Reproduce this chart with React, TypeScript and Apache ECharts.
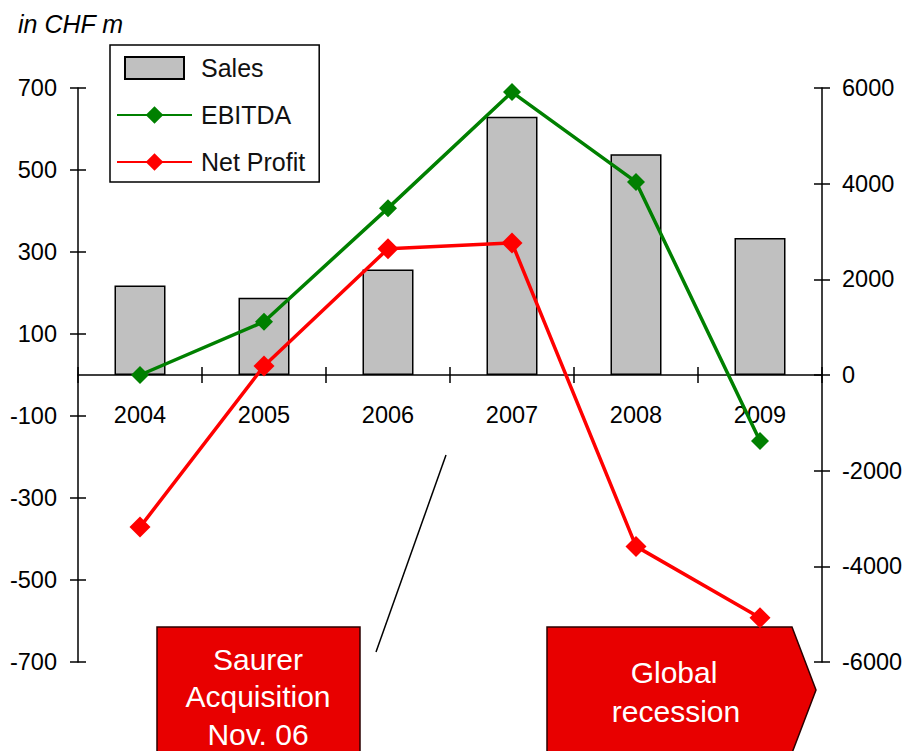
import React, { useEffect, useRef } from "react";
import * as echarts from "echarts";

const years = ["2004", "2005", "2006", "2007", "2008", "2009"];
const sales = [1870, 1615, 2205, 5400, 4615, 2865];
const ebitda = [0, 130, 407, 690, 471, -161];
const netProfit = [-371, 22, 308, 322, -418, -592];
const leftTicks = [-700, -500, -300, -100, 100, 300, 500, 700];

const FONT = "'Liberation Sans', Arial, Helvetica, sans-serif";

export default function App() {
  const ref = useRef<HTMLDivElement>(null);
  useEffect(() => {
    document.body.style.margin = "0";
    if (!ref.current) return;
    const chart = echarts.init(ref.current, undefined, { renderer: "svg" });
    const axisLineStyle = { color: "#000", width: 1.5 };
    const labelStyle = { fontSize: 23.5, color: "#000", fontFamily: FONT };
    chart.setOption({
      animation: false,
      backgroundColor: "#fff",
      textStyle: { fontFamily: FONT },
      grid: { left: 78, right: 84, top: 88, bottom: 89, containLabel: false, outerBoundsMode: "none" },
      legend: {
        orient: "vertical",
        left: 110,
        top: 45,
        padding: [10, 14, 7, 6],
        backgroundColor: "#fff",
        borderColor: "#000",
        borderWidth: 1.5,
        borderRadius: 0,
        itemWidth: 75,
        itemHeight: 22,
        itemGap: 21,
        textStyle: { fontSize: 25, color: "#111", fontFamily: FONT, lineHeight: 26, padding: [0, 0, 0, 4] },
        data: [
          { name: "Sales", icon: "path://M0,0 M75,22 M8,0 L67,0 L67,22 L8,22 Z" },
          { name: "EBITDA" },
          { name: "Net Profit" },
        ],
      },
      xAxis: [
        {
          type: "category",
          data: years,
          position: "bottom",
          boundaryGap: true,
          axisLine: { show: true, onZero: true, onZeroAxisIndex: 0, lineStyle: axisLineStyle },
          axisTick: { show: true, length: 8, lineStyle: axisLineStyle },
          axisLabel: { ...labelStyle, margin: -259 },
          splitLine: { show: false },
        },
        {
          type: "category",
          data: years,
          position: "bottom",
          boundaryGap: true,
          axisLine: { show: false, onZero: true, onZeroAxisIndex: 0 },
          axisTick: { show: true, inside: true, length: 8, lineStyle: axisLineStyle },
          axisLabel: { show: false },
          splitLine: { show: false },
        },
      ],
      yAxis: [
        {
          type: "value",
          position: "left",
          min: -700,
          max: 700,
          axisLine: { show: true, lineStyle: axisLineStyle },
          axisTick: { show: true, length: 8, lineStyle: axisLineStyle, customValues: leftTicks },
          axisLabel: { ...labelStyle, margin: 21, customValues: leftTicks, formatter: (v: number) => String(v) },
          splitLine: { show: false },
        },
        {
          type: "value",
          position: "right",
          min: -6000,
          max: 6000,
          interval: 2000,
          axisLine: { show: true, lineStyle: axisLineStyle },
          axisTick: { show: true, length: 8, lineStyle: axisLineStyle },
          axisLabel: { ...labelStyle, margin: 20, formatter: (v: number) => String(v) },
          splitLine: { show: false },
        },
        {
          type: "value",
          position: "left",
          min: -700,
          max: 700,
          axisLine: { show: false },
          axisTick: { show: true, inside: true, length: 8, lineStyle: axisLineStyle, customValues: leftTicks },
          axisLabel: { show: false },
          splitLine: { show: false },
        },
        {
          type: "value",
          position: "right",
          min: -6000,
          max: 6000,
          interval: 2000,
          axisLine: { show: false },
          axisTick: { show: true, inside: true, length: 8, lineStyle: axisLineStyle },
          axisLabel: { show: false },
          splitLine: { show: false },
        },
      ],
      series: [
        {
          name: "Sales",
          type: "bar",
          xAxisIndex: 0,
          yAxisIndex: 1,
          data: sales,
          barWidth: 51,
          z: 1,
          itemStyle: { color: "#c0c0c0", borderColor: "#000", borderWidth: 1.5 },
        },
        {
          name: "EBITDA",
          type: "line",
          xAxisIndex: 0,
          yAxisIndex: 0,
          data: ebitda,
          symbol: "diamond",
          symbolSize: 18,
          z: 3,
          color: "#008000",
          itemStyle: { color: "#008000" },
          lineStyle: { color: "#008000", width: 3.5 },
        },
        {
          name: "Net Profit",
          type: "line",
          xAxisIndex: 0,
          yAxisIndex: 0,
          data: netProfit,
          symbol: "diamond",
          symbolSize: 21,
          z: 4,
          color: "#ff0000",
          itemStyle: { color: "#ff0000" },
          lineStyle: { color: "#ff0000", width: 3.5 },
        },
      ],
      graphic: [
        {
          type: "text",
          x: 18,
          y: 24,
          style: { text: "in CHF m", fontSize: 25, fontStyle: "italic", fontFamily: FONT, fill: "#000", verticalAlign: "middle" },
        },
        {
          type: "line",
          shape: { x1: 446, y1: 455, x2: 376, y2: 652 },
          style: { stroke: "#000", lineWidth: 1.5 },
        },
        {
          type: "rect",
          shape: { x: 157, y: 627, width: 203, height: 150 },
          style: { fill: "#e80000", stroke: "#2a0000", lineWidth: 1.5 },
        },
        { type: "text", x: 258, y: 659, style: { text: "Saurer", fontSize: 30, fontFamily: FONT, fill: "#fff", align: "center", verticalAlign: "middle" } },
        { type: "text", x: 258, y: 696, style: { text: "Acquisition", fontSize: 30, fontFamily: FONT, fill: "#fff", align: "center", verticalAlign: "middle" } },
        { type: "text", x: 258, y: 734, style: { text: "Nov. 06", fontSize: 30, fontFamily: FONT, fill: "#fff", align: "center", verticalAlign: "middle" } },
        {
          type: "polygon",
          shape: { points: [[547, 627], [792, 627], [816, 690], [792, 753], [547, 753]] },
          style: { fill: "#e80000", stroke: "#2a0000", lineWidth: 1.5 },
        },
        { type: "text", x: 674, y: 672, style: { text: "Global", fontSize: 30, fontFamily: FONT, fill: "#fff", align: "center", verticalAlign: "middle" } },
        { type: "text", x: 676, y: 711, style: { text: "recession", fontSize: 30, fontFamily: FONT, fill: "#fff", align: "center", verticalAlign: "middle" } },
      ],
    });
    return () => chart.dispose();
  }, []);
  return <div ref={ref} style={{ width: 906, height: 751 }} />;
}
